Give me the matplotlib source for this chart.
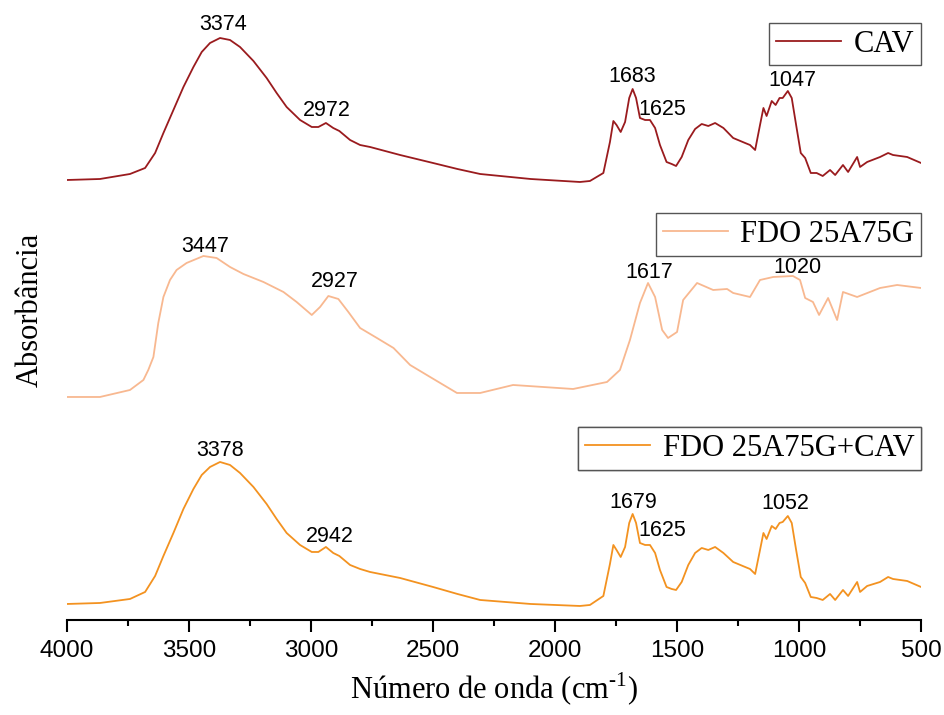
import numpy as np
import matplotlib
matplotlib.use("Agg")
import matplotlib.pyplot as plt
from matplotlib.ticker import MultipleLocator

plt.rcParams["mathtext.fontset"] = "custom"
plt.rcParams["mathtext.rm"] = "Liberation Serif"

# wavenumbers (cm-1) and relative absorbance
wn_cav = [4000, 3865, 3742, 3680, 3639, 3605, 3564, 3523, 3482, 3448, 3414, 3373, 3332,
          3291, 3236, 3182, 3141, 3100, 3045, 2997, 2970, 2939, 2909, 2884, 2840, 2799,
          2758, 2635, 2500, 2400, 2307, 2100, 1898, 1857, 1802, 1775, 1761, 1748, 1731,
          1713, 1696, 1682, 1668, 1652, 1631, 1611, 1590, 1570, 1543, 1522, 1504, 1481,
          1454, 1426, 1399, 1372, 1344, 1310, 1270, 1221, 1201, 1180, 1160, 1146, 1133,
          1112, 1096, 1080, 1067, 1046, 1030, 1012, 993, 975, 952, 928, 903, 873, 852,
          820, 799, 762, 750, 721, 668, 635, 615, 557, 500]
abs_cav = [0, 0.01, 0.06, 0.12, 0.27, 0.47, 0.70, 0.93, 1.13, 1.28, 1.37, 1.42, 1.40,
           1.33, 1.19, 1.02, 0.87, 0.73, 0.60, 0.53, 0.53, 0.57, 0.52, 0.49, 0.40, 0.35,
           0.33, 0.25, 0.17, 0.11, 0.06, 0.01, -0.02, -0.01, 0.07, 0.38, 0.59, 0.55, 0.48,
           0.58, 0.82, 0.91, 0.82, 0.62, 0.60, 0.60, 0.52, 0.35, 0.18, 0.16, 0.14, 0.23,
           0.40, 0.51, 0.56, 0.54, 0.57, 0.52, 0.42, 0.37, 0.35, 0.30, 0.55, 0.72, 0.64,
           0.79, 0.75, 0.82, 0.82, 0.89, 0.82, 0.55, 0.27, 0.22, 0.07, 0.07, 0.04, 0.10, 0.05,
           0.15, 0.08, 0.23, 0.13, 0.18, 0.23, 0.27, 0.25, 0.23, 0.17]

wn_fdo = [4000, 3865, 3742, 3687, 3667, 3646, 3626, 3605, 3578, 3551, 3510, 3441, 3387,
          3332, 3277, 3195, 3113, 3059, 2997, 2963, 2929, 2888, 2847, 2799, 2730, 2662,
          2594, 2512, 2402, 2307, 2172, 1926, 1787, 1734, 1693, 1652, 1619, 1590, 1561,
          1537, 1500, 1475, 1418, 1352, 1295, 1270, 1201, 1160, 1106, 1025, 996, 975, 943,
          918, 881, 844, 820, 762, 668, 598, 500]
abs_fdo = [0, 0, 0.07, 0.17, 0.27, 0.40, 0.74, 1.00, 1.17, 1.27, 1.34, 1.41, 1.39,
           1.30, 1.23, 1.15, 1.05, 0.95, 0.82, 0.90, 1.01, 0.98, 0.85, 0.69, 0.59, 0.49,
           0.32, 0.20, 0.04, 0.04, 0.12, 0.08, 0.15, 0.27, 0.57, 0.94, 1.14, 1.00, 0.67,
           0.59, 0.65, 0.97, 1.14, 1.07, 1.08, 1.04, 1.00, 1.17, 1.20, 1.21, 1.17, 0.99, 0.95,
           0.82, 0.99, 0.77, 1.05, 1.00, 1.09, 1.12, 1.09]

wn_mix = wn_cav
abs_mix = [0, 0.01, 0.05, 0.12, 0.28, 0.48, 0.71, 0.95, 1.15, 1.29, 1.37, 1.42, 1.39,
           1.31, 1.17, 1.00, 0.85, 0.71, 0.59, 0.52, 0.52, 0.57, 0.51, 0.48, 0.39, 0.35,
           0.32, 0.26, 0.17, 0.10, 0.04, 0.0, -0.02, -0.01, 0.08, 0.40, 0.59, 0.54, 0.47,
           0.57, 0.81, 0.90, 0.81, 0.61, 0.59, 0.59, 0.51, 0.34, 0.17, 0.15, 0.14, 0.22,
           0.39, 0.51, 0.56, 0.54, 0.57, 0.51, 0.42, 0.37, 0.35, 0.30, 0.54, 0.71, 0.65,
           0.78, 0.75, 0.81, 0.82, 0.88, 0.81, 0.54, 0.27, 0.21, 0.07, 0.06, 0.04, 0.10, 0.04,
           0.14, 0.08, 0.22, 0.12, 0.18, 0.22, 0.27, 0.25, 0.23, 0.17]

labels = ["CAV", "FDO 25A75G", "FDO 25A75G+CAV"]
offsets = [4.40, 2.23, 0.16]
colors = ["#9A1B1E", "#F8B890", "#F39220"]

# peak annotations: (wavenumber, height, text)
peaks_cav = [(3361, 5.95, "3374"), (2934, 5.09, "2972"), (1684, 5.43, "1683"),
             (1561, 5.10, "1625"), (1029, 5.39, "1047")]
peaks_fdo = [(3434, 3.73, "3447"), (2902, 3.38, "2927"), (1615, 3.47, "1617"),
             (1008, 3.52, "1020")]
peaks_mix = [(3373, 1.69, "3378"), (2922, 0.83, "2942"), (1680, 1.17, "1679"),
             (1561, 0.89, "1625"), (1057, 1.16, "1052")]

serif = "Liberation Serif"
sans = "Liberation Sans"

fig = plt.figure(figsize=(9.44, 7.15), dpi=100)
ax = fig.add_axes([0.071, 0.1329, 0.9047, 0.8671])

series = [(wn_cav, abs_cav), (wn_fdo, abs_fdo), (wn_mix, abs_mix)]
legend_tops = [0.963, 0.656, 0.311]
for (wn, a), off, c, lab, top in zip(series, offsets, colors, labels, legend_tops):
    line, = ax.plot(wn, np.array(a) + off, color=c, lw=1.3)
    leg = ax.legend([line], [lab], loc="upper right", bbox_to_anchor=(1.0, top),
                    borderaxespad=0, frameon=True, fancybox=False, edgecolor="#555555",
                    framealpha=1, prop={"family": serif, "size": 22},
                    handlelength=2.15, handletextpad=0.4, borderpad=0.22)
    leg.get_frame().set_linewidth(1.0)
    ax.add_artist(leg)

for pk in (peaks_cav, peaks_fdo, peaks_mix):
    for x, y, t in pk:
        ax.text(x, y, t, ha="center", va="center", fontsize=15.5, family=sans)

ax.set_xlim(4000, 500)
ax.set_ylim(0, 6.2)
ax.xaxis.set_major_locator(MultipleLocator(500))
ax.xaxis.set_minor_locator(MultipleLocator(250))
ax.tick_params(axis="x", which="major", length=8.5, width=1.5, labelsize=17.5, pad=6)
ax.tick_params(axis="x", which="minor", length=4.3, width=1.5)
for lbl in ax.get_xticklabels():
    lbl.set_family(sans)
ax.set_yticks([])
for s in ("left", "top", "right"):
    ax.spines[s].set_visible(False)
ax.spines["bottom"].set_linewidth(1.5)

ax.set_xlabel(r"Número de onda (cm$^{\text{-1}}$)", family=serif, fontsize=22, labelpad=6)
fig.text(0.032, 0.567, "Absorbância", rotation=90, ha="center", va="center",
         family=serif, fontsize=22)

fig.savefig("out.png", dpi=100)
